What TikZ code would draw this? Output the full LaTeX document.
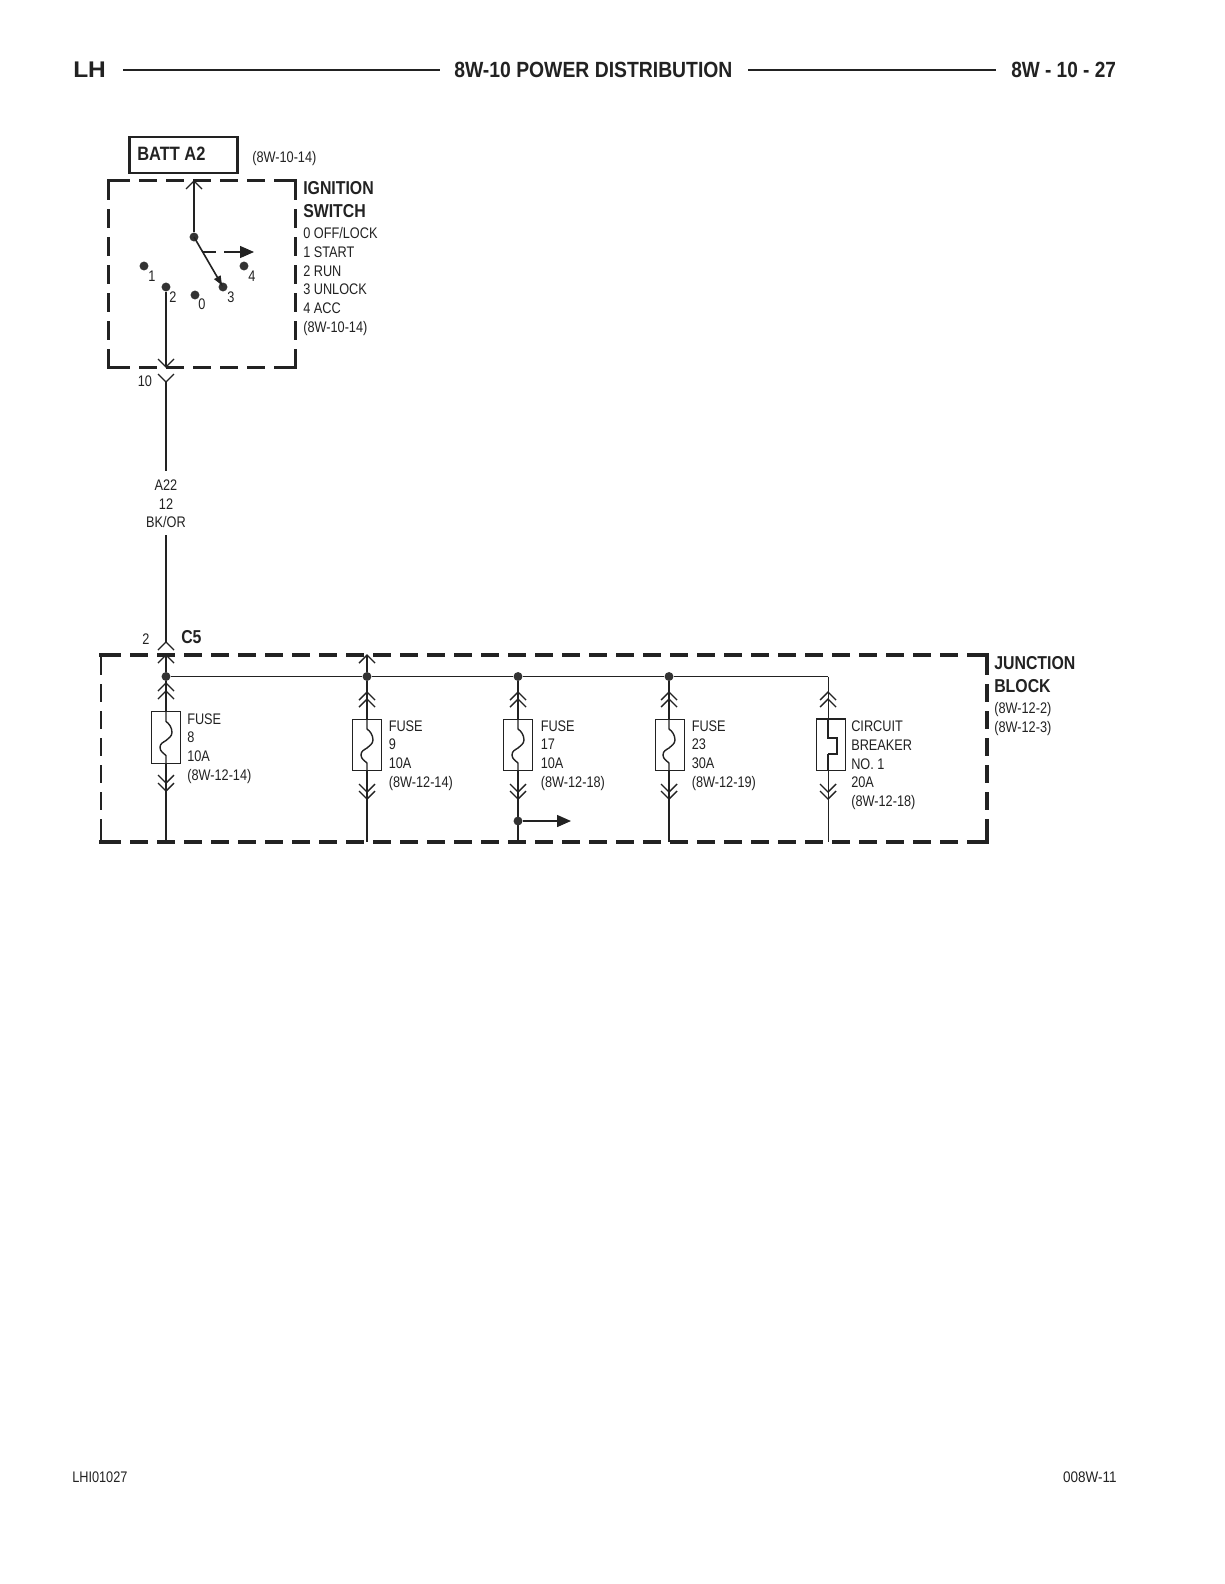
\documentclass[tikz,border=0pt]{standalone}
\usepackage{fontspec}
\setmainfont{Liberation Sans}
\newfontfamily\narf{Liberation Sans}[FakeStretch=0.83]
\newfontfamily\footf{Liberation Sans}[FakeStretch=0.88]
\newfontfamily\bnarf{Liberation Sans}[FakeStretch=0.85]
\newfontfamily\ttlf{Liberation Sans}[FakeStretch=0.88]
\newfontfamily\pagef{Liberation Sans}[FakeStretch=0.865]
\newfontfamily\wbf{Liberation Sans}[FakeStretch=1.08]
\usetikzlibrary{arrows.meta}
\definecolor{ink}{HTML}{222222}
\definecolor{dotc}{HTML}{333333}
\tikzset{
  wire/.style={draw=ink,line width=1.05pt},
  busw/.style={draw=ink,line width=0.7pt},
  fatwire/.style={draw=ink,line width=1.7pt},
  rulel/.style={draw=ink,line width=1.5pt},
  iboxh/.style={draw=ink,line width=2.25pt,dash pattern=on 13.2pt off 7.05pt,dash phase=17.25pt},
  iboxv/.style={draw=ink,line width=2.25pt,dash pattern=on 14pt off 7pt},
  jbox/.style={draw=ink,line width=2.4pt,dash pattern=on 13.2pt off 7.05pt,dash phase=18.75pt},
  jside/.style={draw=ink,line width=1.7pt,dash pattern=on 13.2pt off 7.05pt,dash phase=18.75pt},
  stub/.style={draw=ink,line width=2.4pt},
  stubs/.style={draw=ink,line width=1.7pt},
  dotn/.style={circle,fill=dotc,draw=none,minimum size=6.7pt,inner sep=0pt},
  txt/.style={anchor=base west,inner sep=0pt,text=ink,font=\narf\fontsize{11.5}{14}\selectfont},
  txtc/.style={txt,anchor=base},
  txtr/.style={txt,anchor=base east},
  btxt/.style={anchor=base west,inner sep=0pt,text=ink,font=\bnarf\bfseries\fontsize{14}{16}\selectfont},
  ttl/.style={anchor=base west,inner sep=0pt,text=ink,font=\ttlf\bfseries\fontsize{16.5}{18}\selectfont},
  fusebox/.style={draw=ink,line width=0.9pt,minimum width=21.5pt,minimum height=38.5pt,inner sep=0pt,fill=none},
  chup/.pic={\draw[wire] (-8,8)--(0,0)--(8,8);},
  chdn/.pic={\draw[wire] (-8,-8)--(0,0)--(8,-8);},
  wave/.pic={\draw[wire] (0,-25.5)--(0,-16) .. controls (3,-14) and (6,-10) .. (6,-5) .. controls (6,-1) and (2,1) .. (0,3) .. controls (-3,5) and (-6,6) .. (-6,10) .. controls (-6,14) and (-2,16) .. (0,18)--(0,25.5);},
  cbsym/.pic={\draw[draw=ink,line width=1.5pt] (0,-25.5)--(0,-7)--(9,-7)--(9,9)--(0,9);\draw[wire] (0,9)--(0,25.5);}
}
\begin{document}
\begin{tikzpicture}[x=0.75pt,y=-0.75pt]
\useasboundingbox[fill=white] (0,0) rectangle (1224,1584);
% header
\node[ttl,font=\wbf\bfseries\fontsize{17}{18}\selectfont] (lh) at (73,78) {LH};
\node[ttl] (title) at (454,78) {8W-10 POWER DISTRIBUTION};
\node[ttl,font=\pagef\bfseries\fontsize{16.5}{18}\selectfont] (page) at (1011,78) {8W - 10 - 27};
\coordinate (r1a) at (123,70); \coordinate (r1b) at (440,70);
\coordinate (r2a) at (748,70); \coordinate (r2b) at (996,70);
\draw[rulel] (r1a)--(r1b);
\draw[rulel] (r2a)--(r2b);
% footer
\node[txt] (fl) at (72,1482) {LHI01027};
\node[txtr,font=\footf\fontsize{11.5}{14}\selectfont] (fr) at (1117,1482) {008W-11};
% batt
\node[draw=ink,line width=2pt,minimum width=81pt,minimum height=27pt,inner sep=0pt] (batt) at (183.5,155) {};
\node[btxt,font=\bnarf\bfseries\fontsize{14.5}{16}\selectfont] (battt) at (137,161) {BATT A2};
\node[txt] (battr) at (252,163) {(8W-10-14)};
% ignition
\coordinate (ia) at (108,181); \coordinate (ib) at (295,181); \coordinate (ic) at (295,367); \coordinate (id) at (108,367);
\draw[iboxh] (ia)--(ib);
\draw[iboxh] (id)--(ic);
\draw[iboxv] (ia)--(id);
\draw[iboxv] (ib)--(ic);
\draw[stub,line width=2.25pt,line cap=rect] (ia)-- ++(6,0);
\draw[stub,line width=2.25pt,line cap=rect] (id)-- ++(6,0);
\draw[stub,line width=2.25pt,line cap=rect] (ib)-- ++(-4,0);
\draw[stub,line width=2.25pt,line cap=rect] (ic)-- ++(-4,0);
\node[btxt] (ig1) at (303,194.5) {IGNITION};
\node[btxt] (ig2) at (303,217) {SWITCH};
\node[txt] (ig3) at (303,238) {0 OFF/LOCK};
\node[txt] (ig4) at (303,257) {1 START};
\node[txt] (ig5) at (303,276) {2 RUN};
\node[txt] (ig6) at (303,294) {3 UNLOCK};
\node[txt] (ig7) at (303,313) {4 ACC};
\node[txt] (ig8) at (303,332) {(8W-10-14)};
\node[dotn] (sw) at (194,237) {};
\node[dotn] (p1) at (144,266) {};
\node[dotn] (p2) at (166,287) {};
\node[dotn] (p0) at (195,295) {};
\node[dotn] (p3) at (223,287) {};
\node[dotn] (p4) at (244,266) {};
\node[txtc] (l1) at (152,281) {1};
\node[txtc] (l2) at (173,302) {2};
\node[txtc] (l0) at (202,309) {0};
\node[txtc] (l3) at (231,302) {3};
\node[txtc] (l4) at (252,281) {4};
\coordinate (swtop) at (194,181);
\draw[wire] (sw)--(swtop);
\pic at (swtop) {chup};
\draw[wire,line width=1.2pt,-{Latex[length=8.5pt,width=6pt]}] (sw.center)--(p3.center);
\coordinate (da) at (203,252); \coordinate (db) at (254,252);
\draw[wire,dash pattern=on 9.75pt off 6pt on 30pt off 0pt,-{Triangle[length=10.5pt,width=9pt]}] (da)--(db);
\coordinate (c10a) at (166,367); \coordinate (c10b) at (166,382);
\draw[wire] (p2)--(c10a);
\pic at (c10a) {chdn};
\pic at (c10b) {chdn};
\node[txtc] (c10) at (145,386) {10};
% harness label
\node[txtc] (a22) at (166,490) {A22};
\node[txtc] (a12) at (166,509.5) {12};
\node[txtc] (abk) at (166,527.5) {BK/OR};
\coordinate (gapa) at (166,471); \coordinate (gapb) at (166,535);
\coordinate (c5a) at (166,642);
\draw[wire,line width=1.35pt] (c10b)--(gapa);
\draw[wire,line width=1.35pt] (gapb)--(c5a);
\pic at (c5a) {chup};
\node[txtc] (c2) at (146,644) {2};
\node[btxt] (c5) at (181,643) {C5};
% junction block
\coordinate (ja) at (101,655); \coordinate (jb) at (987,655); \coordinate (jc) at (987,842); \coordinate (jd) at (101,842);
\draw[jbox] (ja)--(jb);
\draw[jbox] (jd)--(jc);
\draw[jside] (ja)--(jd);
\draw[jbox] (jb)--(jc);
\draw[stub,line cap=rect] (ja)-- ++(3,0);
\draw[stub,line cap=rect] (jd)-- ++(3,0);
\draw[stub,line cap=rect] (jb)-- ++(-2,0);
\draw[stub,line cap=rect] (jc)-- ++(-2,0);
\draw[stubs,line cap=rect] (ja)-- ++(0,3);
\draw[stubs,line cap=rect] (jd)-- ++(0,-4);
\draw[stub,line cap=rect] (jb)-- ++(0,3);
\draw[stub,line cap=rect] (jc)-- ++(0,-4);
\node[btxt] (j1) at (994,669) {JUNCTION};
\node[btxt] (j2) at (994,692) {BLOCK};
\node[txt] (j3) at (994,713) {(8W-12-2)};
\node[txt] (j4) at (994,732) {(8W-12-3)};
% bus
\node[dotn] (d8) at (166,676.5) {};
\node[dotn] (d9) at (367,676.5) {};
\node[dotn] (d17) at (518,676.5) {};
\node[dotn] (d23) at (669,676.5) {};
\coordinate (dcb) at (828,676.5);
\draw[busw] (d8)--(d9)--(d17)--(d23)--(dcb);
% fuse 8
\coordinate (t8) at (166,655); \coordinate (b8) at (166,842); \coordinate (m8) at (166,791);
\node[fusebox] (f8) at (166,737.5) {};
\draw[fatwire,line width=1.35pt] (t8)--(d8);
\draw[wire] (d8)--(f8.north);
\draw[wire] (f8.south)--(m8);
\draw[fatwire] (m8)--(b8);
\pic at (f8) {wave};
\pic at (t8) {chup};
\pic at (166,683) {chup};
\pic at (166,691) {chup};
\pic at (166,783) {chdn};
\pic at (166,791) {chdn};
\node[txt] (t8a) at (187,724.5) {FUSE};
\node[txt] (t8b) at (187,742.5) {8};
\node[txt] (t8c) at (187,761.5) {10A};
\node[txt] (t8d) at (187,780.5) {(8W-12-14)};
% fuse 9
\coordinate (t9) at (367,655); \coordinate (b9) at (367,842);
\node[fusebox] (f9) at (367,745) {};
\draw[wire] (t9)--(d9);
\draw[wire] (d9)--(f9.north);
\draw[wire] (f9.south)--(b9);
\pic at (f9) {wave};
\pic at (t9) {chup};
\pic at (367,692) {chup};
\pic at (367,699) {chup};
\pic at (367,792) {chdn};
\pic at (367,799) {chdn};
\node[txt] (t9a) at (388.5,731) {FUSE};
\node[txt] (t9b) at (388.5,749.5) {9};
\node[txt] (t9c) at (388.5,768.5) {10A};
\node[txt] (t9d) at (388.5,787.5) {(8W-12-14)};
% fuse 17
\coordinate (b17) at (518,842);
\node[fusebox] (f17) at (518,745) {};
\draw[wire] (d17)--(f17.north);
\draw[wire] (f17.south)--(b17);
\pic at (f17) {wave};
\pic at (518,692) {chup};
\pic at (518,699) {chup};
\pic at (518,792) {chdn};
\pic at (518,799) {chdn};
\node[dotn] (d17b) at (518,821) {};
\coordinate (a17) at (571,821);
\draw[wire,-{Triangle[length=10.5pt,width=9pt]}] (d17b)--(a17);
\node[txt] (t17a) at (540.5,731) {FUSE};
\node[txt] (t17b) at (540.5,749.5) {17};
\node[txt] (t17c) at (540.5,768.5) {10A};
\node[txt] (t17d) at (540.5,787.5) {(8W-12-18)};
% fuse 23
\coordinate (b23) at (669,842);
\coordinate (t23) at (669,719.5); \coordinate (u23) at (669,770.5); \coordinate (m23) at (669,799);
\node[fusebox] (f23) at (670,745) {};
\draw[wire] (d23)--(t23);
\draw[wire] (u23)--(m23);
\draw[fatwire] (m23)--(b23);
\pic at (669,745) {wave};
\pic at (669,692) {chup};
\pic at (669,699) {chup};
\pic at (669,792) {chdn};
\pic at (669,799) {chdn};
\node[txt] (t23a) at (691.5,731) {FUSE};
\node[txt] (t23b) at (691.5,749.5) {23};
\node[txt] (t23c) at (691.5,768.5) {30A};
\node[txt] (t23d) at (691.5,787.5) {(8W-12-19)};
% breaker
\coordinate (bcb) at (828,842);
\coordinate (tcbw) at (828,719.5); \coordinate (ucbw) at (828,770.5);
\node[fusebox] (fcb) at (831,745) {};
\draw[busw] (dcb)--(tcbw);
\draw[draw=ink,line width=1.5pt] (fcb.north west)--(fcb.north east);
\draw[busw] (ucbw)--(bcb);
\pic at (828,745) {cbsym};
\pic at (828,692) {chup};
\pic at (828,699) {chup};
\pic at (828,792) {chdn};
\pic at (828,799) {chdn};
\node[txt] (tca) at (851,731.5) {CIRCUIT};
\node[txt] (tcb) at (851,750) {BREAKER};
\node[txt] (tcc) at (851,769) {NO. 1};
\node[txt] (tcd) at (851,787.5) {20A};
\node[txt] (tce) at (851,806.5) {(8W-12-18)};
\end{tikzpicture}
\end{document}
